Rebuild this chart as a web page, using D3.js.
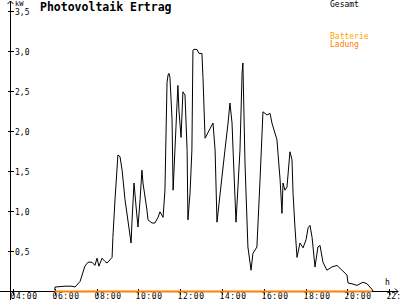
<!DOCTYPE html>
<html>
<head>
<meta charset="utf-8">
<script src="https://cdn.jsdelivr.net/npm/d3@7"></script>
<style>
  body { margin: 0; background: #fff; }
  svg { display: block; font-family: "DejaVu Sans Mono", monospace; }
</style>
</head>
<body>
<svg id="viz" width="400" height="300"></svg>
<script>
// hours of the day, kW
const times = [6.00, 6.01, 6.49, 6.82, 6.97, 7.21, 7.44, 7.59, 7.78, 7.92, 8.02, 8.11, 8.26, 8.40, 8.50, 8.74, 8.78, 8.88, 9.02, 9.12,
  9.22, 9.36, 9.65, 9.69, 9.79, 9.89, 9.98, 10.08, 10.17, 10.22, 10.41, 10.46, 10.65, 10.79, 10.94, 11.03, 11.18, 11.27, 11.37, 11.42,
  11.46, 11.51, 11.61, 11.66, 11.85, 11.89, 11.94, 12.04, 12.13, 12.23, 12.33, 12.37, 12.47, 12.56, 12.61, 12.66, 12.80, 12.90, 13.04, 13.09,
  13.19, 13.57, 13.67, 13.76, 14.14, 14.29, 14.38, 14.48, 14.53, 14.67, 14.86, 14.96, 15.00, 15.10, 15.24, 15.39, 15.48, 15.67, 15.82, 15.96,
  16.06, 16.15, 16.30, 16.39, 16.63, 16.68, 16.78, 16.87, 16.92, 17.01, 17.11, 17.25, 17.35, 17.40, 17.49, 17.59, 17.73, 17.88, 18.02, 18.12,
  18.21, 18.31, 18.45, 18.59, 18.69, 18.83, 19.02, 19.26, 19.50, 19.74, 19.98, 20.03, 20.22, 20.46, 20.75, 20.94, 21.18, 21.22];
const gesamt = [0.01, 0.05, 0.06, 0.06, 0.05, 0.12, 0.31, 0.36, 0.36, 0.32, 0.41, 0.31, 0.41, 0.37, 0.35, 0.42, 0.67, 1.14, 1.70, 1.68,
  1.51, 1.14, 0.60, 0.85, 1.35, 1.05, 0.80, 1.14, 1.51, 1.35, 1.01, 0.89, 0.85, 0.85, 0.92, 0.99, 0.92, 1.26, 2.61, 2.70,
  2.72, 2.67, 2.14, 1.26, 2.35, 2.57, 2.26, 1.92, 2.49, 2.45, 1.76, 0.89, 1.22, 1.76, 3.01, 3.02, 3.02, 2.97, 2.97, 2.67,
  1.91, 2.10, 1.76, 0.86, 1.76, 2.10, 2.35, 2.10, 1.76, 0.86, 1.76, 2.72, 2.85, 1.60, 0.55, 0.26, 0.47, 0.55, 1.39, 2.24,
  2.22, 2.20, 2.22, 2.10, 1.89, 1.72, 1.39, 0.97, 1.35, 1.26, 1.30, 1.74, 1.64, 1.22, 0.80, 0.42, 0.60, 0.54, 0.64, 0.79,
  0.82, 0.67, 0.30, 0.55, 0.57, 0.36, 0.26, 0.30, 0.32, 0.26, 0.20, 0.10, 0.09, 0.07, 0.11, 0.09, 0.02, 0];
// battery charge stays at zero all day
const ladungTimes = [6.00, 21.18];
const ladung = [0, 0];

const xTicks = [4, 6, 8, 10, 12, 14, 16, 18, 20, 22];
const xTickLabels = ["04:00", "06:00", "08:00", "10:00", "12:00", "14:00", "16:00", "18:00", "20:00", "22:"];
const yTicks = [0.5, 1.0, 1.5, 2.0, 2.5, 3.0, 3.5];
const legendItems = ["Gesamt", "Batterie", "Ladung"];
const legendColors = ["#000000", "#ffa500", "#ff8000"];

const svg = d3.select("#viz");
const x = d3.scaleLinear().domain([4, 22]).range([13, 389.2]);
const y = d3.scaleLinear().domain([0, 3.5]).range([291, 11]);
const x0 = 10.5;
const y0 = 291.5;

// axes lines
svg.append("line").attr("x1", 0).attr("x2", 398).attr("y1", y0).attr("y2", y0)
  .attr("stroke", "#000").attr("shape-rendering", "crispEdges");
svg.append("line").attr("x1", x0).attr("x2", x0).attr("y1", 1).attr("y2", 300)
  .attr("stroke", "#000").attr("shape-rendering", "crispEdges");
// arrow heads
svg.append("path").attr("d", `M${x0 - 3},4 L${x0},1 L${x0 + 3},4`).attr("fill", "none").attr("stroke", "#000");
svg.append("path").attr("d", `M395,${y0 - 3} L398,${y0} L395,${y0 + 3}`).attr("fill", "none").attr("stroke", "#000");

// y ticks
const yg = svg.append("g");
yTicks.forEach(v => {
  const yy = Math.round(y(v)) + 0.5;
  yg.append("line").attr("x1", x0 - 3).attr("x2", x0 + 3).attr("y1", yy).attr("y2", yy)
    .attr("stroke", "#000").attr("shape-rendering", "crispEdges");
  yg.append("text").attr("x", 15).attr("y", yy + 3).attr("font-size", 8)
    .text(d3.format(".1f")(v).replace(".", ","));
});
svg.append("text").attr("x", 15).attr("y", 6).attr("font-size", 7).text("kW");

// x ticks
const xg = svg.append("g");
xTicks.forEach((h, i) => {
  const xx = Math.round(x(h)) + 0.5;
  xg.append("line").attr("x1", xx).attr("x2", xx).attr("y1", y0 - 3).attr("y2", y0 + 3)
    .attr("stroke", "#000").attr("shape-rendering", "crispEdges");
  const last = i === xTicks.length - 1;
  xg.append("text").attr("x", xx - 3).attr("y", 299).attr("font-size", 8)
    .attr("letter-spacing", last ? 0 : 0.6).text(xTickLabels[i]);
});
svg.append("text").attr("x", 385).attr("y", 285).attr("font-size", 8).text("h");

// series
const line = d3.line().x(d => x(d[0])).y(d => y(d[1]));
svg.append("path").datum(d3.zip(ladungTimes, ladung)).attr("d", line)
  .attr("transform", "translate(0,0.5)")
  .attr("fill", "none").attr("stroke", "#ff8000").attr("stroke-width", 2);
svg.append("path").datum(d3.zip(times, gesamt)).attr("d", line)
  .attr("fill", "none").attr("stroke", "#000").attr("stroke-width", 1);

// title and legend
svg.append("text").attr("x", 40).attr("y", 11).attr("font-size", 11.5).attr("font-weight", "bold")
  .text("Photovoltaik Ertrag");
svg.selectAll(".legend").data(legendItems).join("text")
  .attr("class", "legend")
  .attr("x", 330)
  .attr("y", (d, i) => i === 0 ? 7 : 31 + i * 8)
  .attr("font-size", 8)
  .attr("fill", (d, i) => legendColors[i])
  .text(d => d);
</script>
</body>
</html>
